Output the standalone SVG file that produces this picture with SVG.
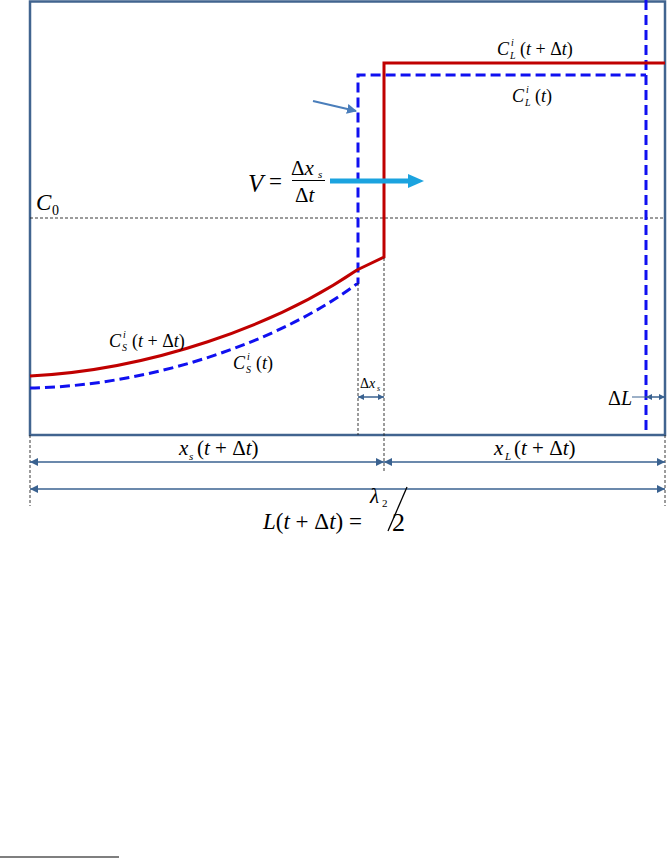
<svg xmlns="http://www.w3.org/2000/svg" width="671" height="861" viewBox="0 0 671 861">
<defs>
<style>
.m{font-family:"Liberation Serif","Times New Roman",serif;font-style:italic;fill:#000}
.r{font-family:"Liberation Serif","Times New Roman",serif;font-style:normal;fill:#000}
.dim{stroke:#3a6290;stroke-width:1.5;fill:none}
.thin{stroke:#222;stroke-width:0.9;stroke-dasharray:3 2;fill:none}
.red{stroke:#c00000;stroke-width:3;fill:none}
.blue{stroke:#1010f0;stroke-width:3;fill:none;stroke-dasharray:10 5}
</style>
<marker id="ah" viewBox="0 0 10 10" refX="10" refY="5" markerWidth="8" markerHeight="8" markerUnits="userSpaceOnUse" orient="auto-start-reverse">
<path d="M0,0 L10,5 L0,10 z" fill="#3a6290"/>
</marker>
<marker id="ahs" viewBox="0 0 10 10" refX="10" refY="5" markerWidth="6" markerHeight="6" markerUnits="userSpaceOnUse" orient="auto-start-reverse">
<path d="M0,0 L10,5 L0,10 z" fill="#3a6290"/>
</marker>
<marker id="ahb" viewBox="0 0 10 10" refX="9" refY="5" markerWidth="10" markerHeight="10" markerUnits="userSpaceOnUse" orient="auto">
<path d="M0,0 L10,5 L0,10 z" fill="#4a7ebb"/>
</marker>
</defs>

<g id="frame">
<rect x="30" y="1.5" width="635" height="433.5" fill="#fff" stroke="#41648f" stroke-width="2.5"/>
</g>

<g id="c0-line">
<line x1="30" y1="218" x2="665" y2="218" class="thin"/>
<text x="36" y="210" class="m" font-size="23">C</text>
<text x="52" y="215" class="r" font-size="14">0</text>
</g>

<g id="profile-t">
<path class="blue" d="M30,388 C150,386 280,342 358,283 L358,75 L646,75"/>
<line class="blue" x1="646" y1="0" x2="646" y2="435"/>
</g>

<g id="profile-t-dt">
<path class="red" d="M30,376 C150,370 275,326 357,270 L384,257 L384,63 L665,63"/>
</g>

<g id="velocity">
<line x1="330" y1="181" x2="410" y2="181" stroke="#1ba3df" stroke-width="5"/>
<path d="M408,174 L424,181 L408,188 z" fill="#1ba3df"/>
<text x="248" y="192" class="m" font-size="25">V</text>
<text x="269" y="189" class="r" font-size="23">=</text>
<text x="291" y="175" class="r" font-size="21">Δ<tspan class="m">x</tspan></text>
<text x="318" y="178" class="m" font-size="11">s</text>
<line x1="292" y1="180.5" x2="325" y2="180.5" stroke="#000" stroke-width="1"/>
<text x="295" y="202" class="r" font-size="21">Δ<tspan class="m">t</tspan></text>
</g>

<g id="pointer">
<line x1="313" y1="101" x2="356" y2="111" stroke="#4a7ebb" stroke-width="2" marker-end="url(#ahb)"/>
</g>

<g id="label-CL-tdt">
<text x="497" y="55" class="m" font-size="18">C</text>
<text x="511" y="46" class="m" font-size="10">i</text>
<text x="510" y="59" class="m" font-size="10">L</text>
<text x="520" y="55" class="r" font-size="18">(<tspan class="m">t</tspan> + Δ<tspan class="m">t</tspan>)</text>
</g>
<g id="label-CL-t">
<text x="512" y="102" class="m" font-size="18">C</text>
<text x="526" y="93" class="m" font-size="10">i</text>
<text x="525" y="106" class="m" font-size="10">L</text>
<text x="535" y="102" class="r" font-size="18">(<tspan class="m">t</tspan>)</text>
</g>
<g id="label-CS-tdt">
<text x="109" y="347" class="m" font-size="18">C</text>
<text x="123" y="338" class="m" font-size="10">i</text>
<text x="122" y="351" class="m" font-size="10">S</text>
<text x="132" y="347" class="r" font-size="18">(<tspan class="m">t</tspan> + Δ<tspan class="m">t</tspan>)</text>
</g>
<g id="label-CS-t">
<text x="233" y="369" class="m" font-size="18">C</text>
<text x="247" y="360" class="m" font-size="10">i</text>
<text x="246" y="373" class="m" font-size="10">S</text>
<text x="256" y="369" class="r" font-size="18">(<tspan class="m">t</tspan>)</text>
</g>

<g id="guides">
<line class="thin" x1="358" y1="283" x2="358" y2="435"/>
<line class="thin" x1="384" y1="258" x2="384" y2="472"/>
<line class="thin" x1="30" y1="435" x2="30" y2="506"/>
<line class="thin" x1="665" y1="435" x2="665" y2="506"/>
</g>

<g id="dx-s">
<line class="dim" x1="358" y1="397" x2="384" y2="397" marker-start="url(#ahs)" marker-end="url(#ahs)"/>
<text x="360" y="388" class="r" font-size="14">Δ<tspan class="m">x</tspan></text>
<text x="377" y="391" class="m" font-size="8">s</text>
</g>

<g id="dL">
<line x1="632" y1="397" x2="646" y2="397" stroke="#3a6290" stroke-width="1"/>
<line class="dim" x1="646" y1="397" x2="665" y2="397" marker-start="url(#ahs)" marker-end="url(#ahs)"/>
<text x="608" y="405" class="r" font-size="20">Δ<tspan class="m">L</tspan></text>
</g>

<g id="connectors">
<line class="dim" x1="30" y1="462" x2="384" y2="462" marker-start="url(#ah)" marker-end="url(#ah)"/>
<line class="dim" x1="384" y1="462" x2="665" y2="462" marker-start="url(#ah)" marker-end="url(#ah)"/>
<line class="dim" x1="30" y1="489" x2="665" y2="489" marker-start="url(#ah)" marker-end="url(#ah)"/>
</g>

<g id="label-xs">
<text x="179" y="455" class="m" font-size="21">x</text>
<text x="189" y="460" class="m" font-size="11">s</text>
<text x="197" y="455" class="r" font-size="21">(<tspan class="m">t</tspan> + Δ<tspan class="m">t</tspan>)</text>
</g>
<g id="label-xL">
<text x="494" y="455" class="m" font-size="21">x</text>
<text x="505" y="460" class="m" font-size="11">L</text>
<text x="514" y="455" class="r" font-size="21">(<tspan class="m">t</tspan> + Δ<tspan class="m">t</tspan>)</text>
</g>

<g id="label-L">
<text x="263" y="529" class="m" font-size="23">L<tspan class="r">(</tspan>t<tspan class="r"> + Δ</tspan>t<tspan class="r">) =</tspan></text>
<text x="370" y="503" class="m" font-size="21">λ</text>
<text x="382" y="507" class="r" font-size="11">2</text>
<line x1="407" y1="487" x2="388" y2="531" stroke="#000" stroke-width="1.3"/>
<text x="392" y="531" class="r" font-size="26">2</text>
</g>

<g id="footnote-rule">
<line x1="0" y1="857" x2="119" y2="857" stroke="#000" stroke-width="1.2"/>
</g>
</svg>
